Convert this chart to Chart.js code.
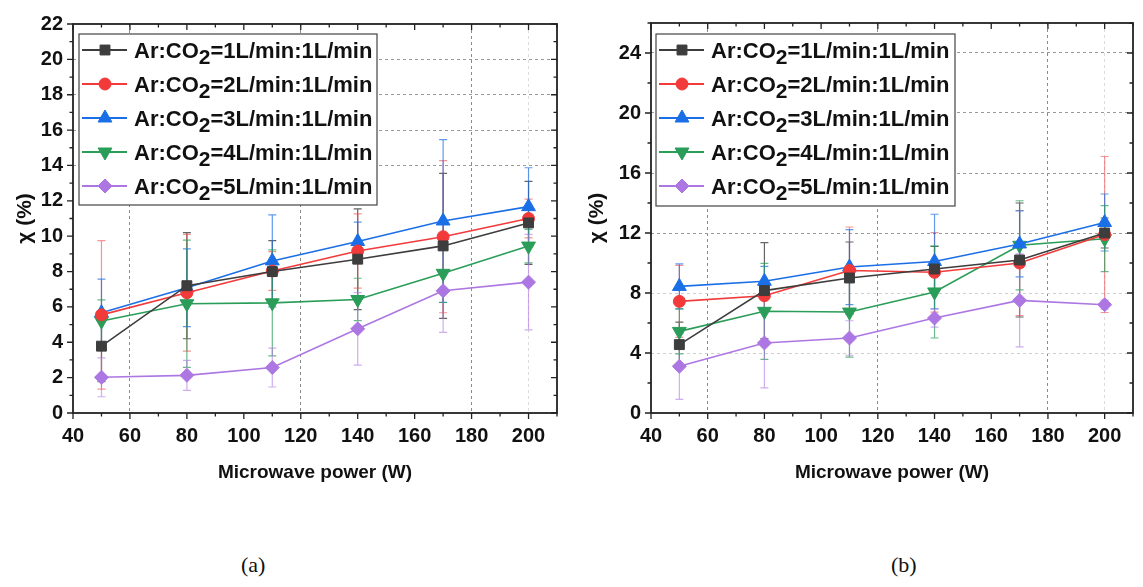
<!DOCTYPE html>
<html>
<head>
<meta charset="utf-8">
<title>Conversion vs microwave power</title>
<script src="https://cdn.jsdelivr.net/npm/chart.js@4.4.1/dist/chart.umd.min.js"></script>
<style>
  body { margin: 0; background: #fff; width: 1143px; height: 587px; position: relative; overflow: hidden; }
  canvas { position: absolute; top: 0; }
  #chartA { left: 0; }
  #chartB { left: 572px; }
  .cap { position: absolute; top: 552px; font: 22px "Liberation Serif", "Times New Roman", serif; color: #111; }
</style>
</head>
<body>
<canvas id="chartA" width="570" height="490"></canvas>
<canvas id="chartB" width="571" height="490"></canvas>
<div class="cap" style="left:241px">(a)</div>
<div class="cap" style="left:891px">(b)</div>
<script>
// x values (W) shared by every series
const POWER = [50, 80, 110, 140, 170, 200];
const X_TICKS = [40, 60, 80, 100, 120, 140, 160, 180, 200];
const A_Y_TICKS = [0, 2, 4, 6, 8, 10, 12, 14, 16, 18, 20, 22];
const B_Y_TICKS = [0, 4, 8, 12, 16, 20, 24];
const FLOW_LABELS = ['=1L/min:1L/min', '=2L/min:1L/min', '=3L/min:1L/min', '=4L/min:1L/min', '=5L/min:1L/min'];

// panel (a)
const A_1 = [3.78, 7.2, 8.0, 8.7, 9.45, 10.75];
const A_2 = [5.55, 6.8, 8.03, 9.16, 9.97, 11.0];
const A_3 = [5.67, 7.08, 8.6, 9.7, 10.86, 11.67];
const A_4 = [5.2, 6.18, 6.23, 6.42, 7.9, 9.44];
const A_5 = [2.02, 2.13, 2.57, 4.76, 6.91, 7.4];
const A_1_ERR = [2.0, 3.0, 1.75, 2.85, 4.1, 2.35];
const A_2_ERR = [4.2, 3.3, 1.1, 2.1, 4.3, 1.1];
const A_3_ERR = [1.9, 2.2, 2.6, 1.1, 4.6, 2.2];
const A_4_ERR = [1.2, 3.6, 3.0, 1.2, 1.65, 0.95];
const A_5_ERR = [1.1, 0.85, 1.1, 2.05, 2.35, 2.7];

// panel (b)
const B_1 = [4.56, 8.16, 9.0, 9.6, 10.2, 12.0];
const B_2 = [7.44, 7.82, 9.5, 9.38, 10.0, 11.9];
const B_3 = [8.44, 8.78, 9.73, 10.1, 11.27, 12.7];
const B_4 = [5.44, 6.78, 6.73, 8.07, 11.18, 11.62];
const B_5 = [3.11, 4.67, 5.0, 6.33, 7.51, 7.22];
const B_1_ERR = [1.5, 3.2, 2.4, 1.5, 3.8, 1.0];
const B_2_ERR = [2.4, 1.0, 2.9, 2.65, 3.5, 5.2];
const B_3_ERR = [1.5, 1.0, 2.5, 3.15, 2.2, 1.9];
const B_4_ERR = [1.5, 3.2, 3.0, 3.07, 2.97, 2.2];
const B_5_ERR = [2.2, 3.0, 1.15, 0.6, 3.1, 0.3];

const LINE_COLORS = ['#3d3d3d', '#f23a3a', '#1b6fe6', '#2a9d58', '#ad77e3'];
const ERR_COLORS = ['rgba(50,50,50,0.75)', 'rgba(242,58,58,0.55)', 'rgba(27,111,230,0.7)', 'rgba(42,157,88,0.7)', 'rgba(173,119,227,0.6)'];
const MARKERS = [
  { style: 'rect', radius: 7, rotation: 0 },
  { style: 'circle', radius: 6, rotation: 0 },
  { style: 'triangle', radius: 8, rotation: 0 },
  { style: 'triangle', radius: 8, rotation: 180 },
  { style: 'rectRot', radius: 7, rotation: 0 },
];

const FONT = '"Liberation Sans", Arial, sans-serif';

// vertical error bars, drawn under the lines/markers
const errorBars = {
  id: 'errorBars',
  beforeDatasetsDraw(chart) {
    const { ctx, scales: { x, y } } = chart;
    ctx.save();
    ctx.lineWidth = 1.2;
    chart.data.datasets.forEach((ds) => {
      if (!ds.errors) return;
      ctx.strokeStyle = ds.errorColor;
      ctx.beginPath();
      ds.data.forEach((pt, j) => {
        const e = ds.errors[j];
        const px = x.getPixelForValue(pt.x);
        const top = y.getPixelForValue(pt.y + e);
        const bot = y.getPixelForValue(pt.y - e);
        ctx.moveTo(px, top); ctx.lineTo(px, bot);
        ctx.moveTo(px - 4, top); ctx.lineTo(px + 4, top);
        ctx.moveTo(px - 4, bot); ctx.lineTo(px + 4, bot);
      });
      ctx.stroke();
    });
    ctx.restore();
  },
};

// box around the plot + major/minor ticks on all four sides
const frame = {
  id: 'frame',
  afterDraw(chart, args, opts) {
    const { ctx, chartArea: a, scales: { x, y } } = chart;
    ctx.save();
    ctx.strokeStyle = '#222';
    ctx.lineWidth = 1.3;
    ctx.beginPath();
    for (let v = x.min; v <= x.max + 1e-9; v += opts.xMinor) {
      const px = x.getPixelForValue(v);
      const len = v % opts.xMajor === 0 ? 6 : 3.5;
      ctx.moveTo(px, a.bottom); ctx.lineTo(px, a.bottom + len);
      ctx.moveTo(px, a.top); ctx.lineTo(px, a.top + len);
    }
    for (let v = y.min; v <= y.max + 1e-9; v += opts.yMinor) {
      const py = y.getPixelForValue(v);
      const len = v % opts.yMajor === 0 ? 6 : 3.5;
      ctx.moveTo(a.left, py); ctx.lineTo(a.left - len, py);
      ctx.moveTo(a.right, py); ctx.lineTo(a.right - len, py);
    }
    ctx.stroke();
    ctx.lineWidth = 1.8;
    ctx.strokeRect(a.left, a.top, a.right - a.left, a.bottom - a.top);
    ctx.restore();
  },
};

// Origin-style legend box inside the plot, with subscript 2 in CO2
const boxLegend = {
  id: 'boxLegend',
  afterDraw(chart, args, opts) {
    const ctx = chart.ctx;
    const { x, y, w, h } = opts;
    ctx.save();
    ctx.fillStyle = '#fff';
    ctx.fillRect(x, y, w, h);
    ctx.strokeStyle = '#444';
    ctx.lineWidth = 1.2;
    ctx.strokeRect(x, y, w, h);
    chart.data.datasets.forEach((ds, i) => {
      const cy = y + 16 + i * 34;
      ctx.strokeStyle = ds.borderColor;
      ctx.lineWidth = 2;
      ctx.beginPath();
      ctx.moveTo(x + 3, cy);
      ctx.lineTo(x + 48, cy);
      ctx.stroke();
      ctx.fillStyle = ds.pointBackgroundColor;
      ctx.strokeStyle = ds.pointBorderColor;
      ctx.lineWidth = 1;
      Chart.helpers.drawPoint(ctx, {
        pointStyle: ds.pointStyle, radius: ds.pointRadius, rotation: ds.pointRotation, borderWidth: 1,
      }, x + 26, cy);

      ctx.fillStyle = '#111';
      ctx.textAlign = 'left';
      ctx.textBaseline = 'alphabetic';
      const base = cy + 8;
      let tx = x + 55;
      ctx.font = 'bold 22px ' + FONT;
      ctx.fillText('Ar:CO', tx, base);
      tx += ctx.measureText('Ar:CO').width;
      ctx.font = 'bold 21px ' + FONT;
      ctx.fillText('2', tx, base + 6);
      tx += ctx.measureText('2').width;
      ctx.font = 'bold 22px ' + FONT;
      ctx.fillText(FLOW_LABELS[i], tx, base);
    });
    ctx.restore();
  },
};

function buildDatasets(values, errors) {
  return values.map((vals, i) => ({
    label: 'Ar:CO\u2082' + FLOW_LABELS[i],
    data: POWER.map((p, j) => ({ x: p, y: vals[j] })),
    errors: errors[i],
    errorColor: ERR_COLORS[i],
    borderColor: LINE_COLORS[i],
    backgroundColor: LINE_COLORS[i],
    pointBackgroundColor: LINE_COLORS[i],
    pointBorderColor: LINE_COLORS[i],
    pointStyle: MARKERS[i].style,
    pointRadius: MARKERS[i].radius,
    pointRotation: MARKERS[i].rotation,
    pointBorderWidth: 1,
    borderWidth: 1.6,
    tension: 0,
  }));
}

function makeChart(id, cfg) {
  const canvas = document.getElementById(id);
  return new Chart(canvas, {
    type: 'line',
    data: { datasets: buildDatasets(cfg.values, cfg.errors) },
    plugins: [errorBars, frame, boxLegend],
    options: {
      responsive: false,
      animation: false,
      layout: { padding: { top: cfg.top, right: cfg.right, left: 0, bottom: 0 } },
      plugins: {
        legend: { display: false },
        tooltip: { enabled: false },
        frame: { xMinor: 10, xMajor: 20, yMinor: cfg.yMinor, yMajor: cfg.yStep },
        boxLegend: cfg.legend,
      },
      scales: {
        x: {
          type: 'linear',
          min: 40,
          max: 210,
          afterFit: (s) => { s.height = 77; },
          afterBuildTicks: (s) => { s.ticks = X_TICKS.map((v) => ({ value: v })); },
          ticks: {
            padding: 11,
            color: '#111',
            font: { family: FONT, size: 20, weight: 'bold' },
          },
          grid: {
            drawTicks: false,
            lineWidth: 1,
            color: (ctx) => {
              const v = ctx.tick && ctx.tick.value;
              if (v === 60 || v === 120 || v === 180) return '#8a8a8a';
              if (v === 200) return '#dcdcdc';
              return 'rgba(0,0,0,0)';
            },
          },
          border: { display: false, dash: [3, 3] },
          title: {
            display: true,
            text: 'Microwave power (W)',
            color: '#111',
            padding: { top: 0, bottom: 6 },
            font: { family: FONT, size: 19, weight: 'bold' },
          },
        },
        y: {
          min: 0,
          max: cfg.yMax,
          afterFit: (s) => { s.width = cfg.left; },
          afterBuildTicks: (s) => { s.ticks = cfg.yTicks.map((v) => ({ value: v })); },
          ticks: {
            padding: 10,
            color: '#111',
            font: { family: FONT, size: 20, weight: 'bold' },
          },
          grid: {
            drawTicks: false,
            lineWidth: 1,
            color: (ctx) => cfg.yGrid(ctx.tick && ctx.tick.value),
          },
          border: { display: false, dash: [3, 3] },
          title: {
            display: true,
            text: '\u03c7 (%)',
            color: '#111',
            padding: { top: 13, bottom: 0 },
            font: { family: FONT, size: 21, weight: 'bold' },
          },
        },
      },
    },
  });
}

makeChart('chartA', {
  values: [A_1, A_2, A_3, A_4, A_5],
  errors: [A_1_ERR, A_2_ERR, A_3_ERR, A_4_ERR, A_5_ERR],
  yMax: 22, yStep: 2, yMinor: 1, yTicks: A_Y_TICKS,
  top: 24, right: 13, left: 73,
  yGrid: (v) => (v >= 14 && v <= 20 ? '#9a9a9a' : 'rgba(0,0,0,0)'),
  legend: { x: 79, y: 34, w: 298, h: 171 },
});

makeChart('chartB', {
  values: [B_1, B_2, B_3, B_4, B_5],
  errors: [B_1_ERR, B_2_ERR, B_3_ERR, B_4_ERR, B_5_ERR],
  yMax: 26, yStep: 4, yMinor: 2, yTicks: B_Y_TICKS,
  top: 23, right: 10, left: 79,
  yGrid: (v) => (v > 0 && v < 26 ? (v >= 12 ? '#9a9a9a' : '#cfcfcf') : 'rgba(0,0,0,0)'),
  legend: { x: 84, y: 34, w: 299, h: 172 },
});
</script>
</body>
</html>
